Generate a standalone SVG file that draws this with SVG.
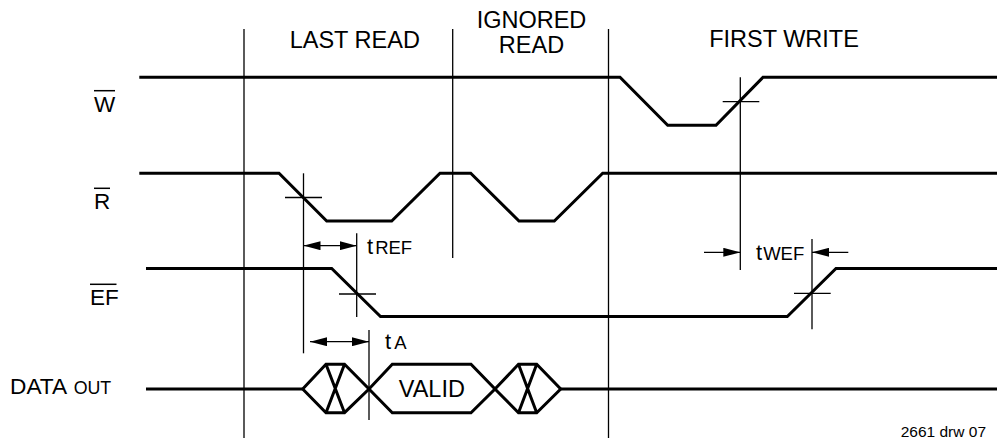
<svg xmlns="http://www.w3.org/2000/svg" width="997" height="440" viewBox="0 0 997 440">
<style>
.sig{fill:none;stroke:#000;stroke-width:3;stroke-linejoin:miter}
.ref{fill:none;stroke:#000;stroke-width:1.3}
.ov{fill:none;stroke:#000;stroke-width:1.5}
.arr{fill:none;stroke:#000;stroke-width:1.3}
text{font-family:"Liberation Sans",Arial,sans-serif;fill:#000}
.hd{font-size:23.5px;text-anchor:middle}
.lb{font-size:22.5px}
.sub{font-size:18.5px}
</style>
<defs>
<marker id="ah" viewBox="0 0 17 9" refX="17" refY="4.5" markerWidth="17" markerHeight="9" markerUnits="userSpaceOnUse" orient="auto-start-reverse">
<path d="M0,0 L17,4.5 L0,9 Z" fill="#000"/>
</marker>
</defs>
<rect width="997" height="440" fill="#fff"/>
<g id="headings">
<text class="hd" x="354.8" y="47.5">LAST READ</text>
<text class="hd" x="531.5" y="28.3">IGNORED</text>
<text class="hd" x="531.5" y="53.3">READ</text>
<text class="hd" x="784" y="47">FIRST WRITE</text>
</g>
<g id="reference-lines">
<line class="ref" x1="244" y1="29" x2="244" y2="438"/>
<line class="ref" x1="452.7" y1="29" x2="452.7" y2="258"/>
<line class="ref" x1="608.5" y1="29" x2="608.5" y2="438"/>
</g>
<g id="sig-W">
<text class="lb" x="94" y="111.5">W</text>
<line class="ov" x1="94" y1="90.7" x2="115" y2="90.7"/>
<path class="sig" d="M139.3,77.3 H620 L667.7,125.3 H716 L763,77.3 H997"/>
</g>
<g id="sig-R">
<text class="lb" x="94" y="209">R</text>
<line class="ov" x1="94" y1="188.3" x2="110" y2="188.3"/>
<path class="sig" d="M139.3,173.3 H279 L326.7,221 H391.7 L440,173.3 H470.7 L519,221 H554.3 L602.7,173.3 H997"/>
</g>
<g id="sig-EF">
<text class="lb" x="90" y="305">EF</text>
<line class="ov" x1="90" y1="284.3" x2="116.5" y2="284.3"/>
<path class="sig" d="M146,268.5 H331.7 L380.5,316.5 H787.3 L836,268.5 H997"/>
</g>
<g id="sig-DATA">
<text x="10" y="394"><tspan style="font-size:22.7px">DATA</tspan><tspan style="font-size:17.8px" dx="6.5">OUT</tspan></text>
<path class="sig" d="M146,389 H302.7"/>
<path class="sig" d="M302.7,389 L326,364.3 H344.5 L369,389 L344.5,412.7 H326 Z M326,364.3 L344.5,412.7 M344.5,364.3 L326,412.7"/>
<path class="sig" d="M369,389 L392.3,364.3 H471 L495,389 L471,412.7 H392.3 Z"/>
<text style="font-size:23.5px" x="431.8" y="396.7" text-anchor="middle">VALID</text>
<path class="sig" d="M495,389 L518.5,364.3 H536.7 L560.7,389 L536.7,412.7 H518.5 Z M518.5,364.3 L536.7,412.7 M536.7,364.3 L518.5,412.7"/>
<path class="sig" d="M560.7,389 H997"/>
</g>
<g id="timing">
<line class="ref" x1="303.5" y1="173.3" x2="303.5" y2="353.3"/>
<line class="ref" x1="285" y1="197.5" x2="322" y2="197.5"/>
<line class="ref" x1="356.7" y1="233.3" x2="356.7" y2="317"/>
<line class="ref" x1="339" y1="294" x2="376" y2="294"/>
<line class="ref" x1="369" y1="330" x2="369" y2="420"/>
<line class="ref" x1="740.3" y1="77.3" x2="740.3" y2="270"/>
<line class="ref" x1="722.7" y1="101.7" x2="759.3" y2="101.7"/>
<line class="ref" x1="812" y1="239" x2="812" y2="329.3"/>
<line class="ref" x1="794" y1="293.3" x2="830.7" y2="293.3"/>
</g>
<g id="connectors">
<line class="arr" x1="303.5" y1="245.7" x2="356.7" y2="245.7" marker-start="url(#ah)" marker-end="url(#ah)"/>
<line class="arr" x1="310" y1="341.7" x2="369" y2="341.7" marker-start="url(#ah)" marker-end="url(#ah)"/>
<line class="arr" x1="704" y1="252.3" x2="740.3" y2="252.3" marker-end="url(#ah)"/>
<line class="arr" x1="848.3" y1="252.3" x2="812" y2="252.3" marker-end="url(#ah)"/>
</g>
<g id="timing-labels">
<text x="367" y="254.3"><tspan style="font-size:22px">t</tspan><tspan class="sub" dx="2">REF</tspan></text>
<text x="385" y="349.3"><tspan style="font-size:22px">t</tspan><tspan class="sub" dx="3">A</tspan></text>
<text x="756" y="260"><tspan style="font-size:22px">t</tspan><tspan class="sub" dx="1">WEF</tspan></text>
<text x="986" y="436.5" style="font-size:15.5px" text-anchor="end">2661 drw 07</text>
</g>
</svg>
